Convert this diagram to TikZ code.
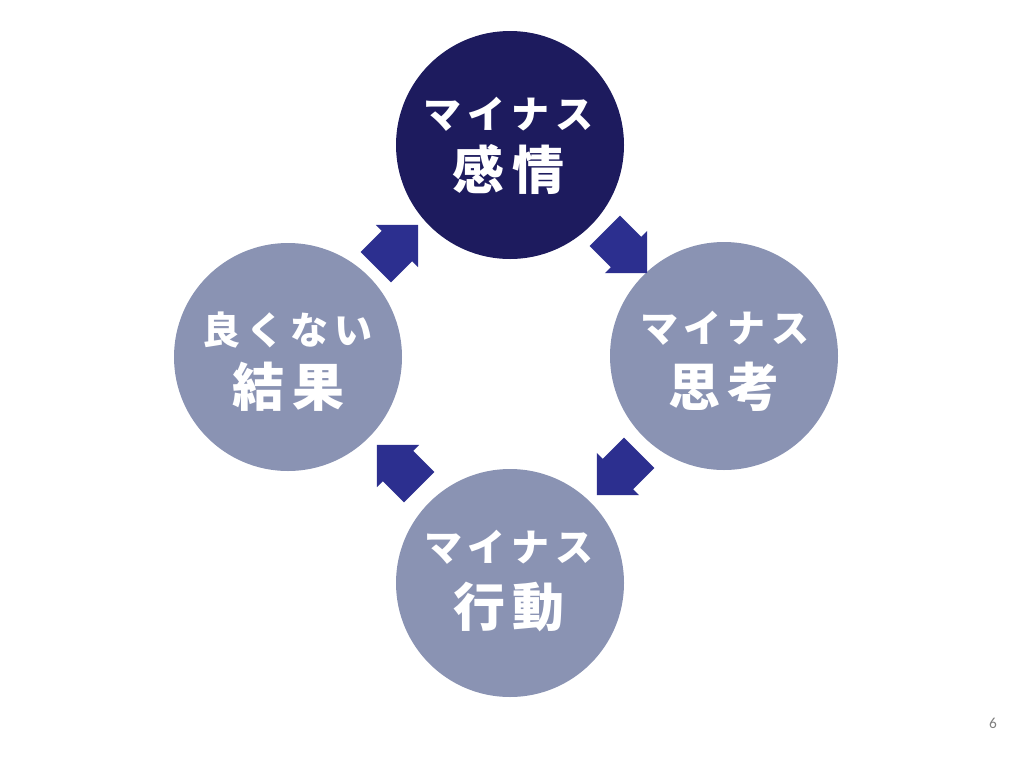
\documentclass[tikz,border=0pt]{standalone}
\usepackage{fontspec}
\newfontfamily\jp{Noto Sans CJK JP}
\newfontfamily\pgnum{Carlito}
\definecolor{darkc}{HTML}{1D1B5E}
\definecolor{lightc}{HTML}{8A93B3}
\definecolor{arrowc}{HTML}{2C2F8F}
\newcommand{\ks}{\hspace{4.5pt}}
\newcommand{\bs}{\hspace{6pt}}
\begin{document}
\begin{tikzpicture}[x=0.75pt,y=-0.75pt,
  bubble/.style={circle,minimum size=171pt,inner sep=0pt,draw=none},
  smalltxt/.style={anchor=base,text=white,inner sep=0pt,font=\jp\bfseries\fontsize{28.5}{30}\selectfont},
  bigtxt/.style={anchor=base,text=white,inner sep=0pt,font=\jp\bfseries\fontsize{39}{42}\selectfont},
  blockarrow/.style={fill=arrowc,draw=none}]
\useasboundingbox (0,0) rectangle (1024,768);
\fill[white] (0,0) rectangle (1024,768);
% circles
\node[bubble,fill=darkc] (top) at (510,145) {};
\node[bubble,fill=lightc] (right) at (724,356) {};
\node[bubble,fill=lightc] (bottom) at (510,583) {};
\node[bubble,fill=lightc] (left) at (288,357) {};
% texts
\node[smalltxt] (t1) at (508.5,128) {マ\ks{}イ\ks{}ナ\ks{}ス};
\node[bigtxt] (t2) at (508.5,189) {感\bs{}情};
\node[smalltxt] (r1) at (725,342) {マ\ks{}イ\ks{}ナ\ks{}ス};
\node[bigtxt] (r2) at (724,406) {思\bs{}考};
\node[smalltxt] (b1) at (509,561) {マ\ks{}イ\ks{}ナ\ks{}ス};
\node[bigtxt] (b2) at (509,626) {行\bs{}動};
\node[smalltxt] (l1) at (287.5,344) {良\ks{}く\ks{}な\ks{}い};
\node[bigtxt] (l2) at (288.5,406) {結\bs{}果};
% arrows
\foreach \cx/\cy/\ang in {397/246/45, 626/252/-45, 618/474/-135, 398/466/135}{
  \begin{scope}[shift={(\cx,\cy)},rotate=\ang]
    \fill[blockarrow] (-30,-21.5) -- (0,-21.5) -- (0,-30) -- (30,0) -- (0,30) -- (0,21.5) -- (-30,21.5) -- cycle;
  \end{scope}
}
% page number
\node[anchor=base,text=black!50,inner sep=0pt,font=\pgnum\fontsize{11.5}{12}\selectfont] (pg) at (993,728) {6};
\end{tikzpicture}
\end{document}
